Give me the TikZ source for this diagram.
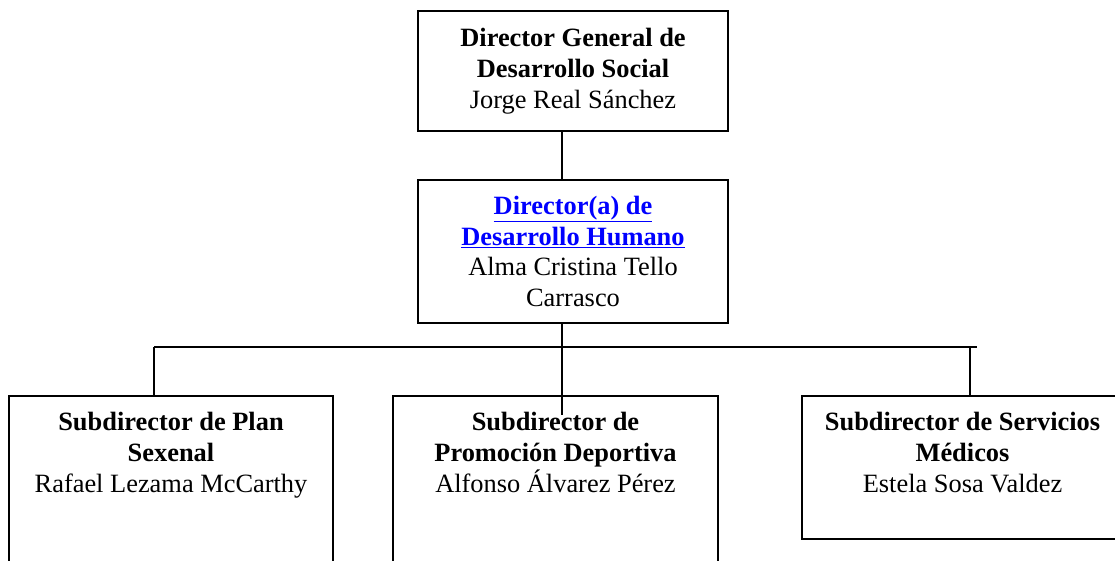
\documentclass[tikz,border=0pt]{standalone}
\usepackage{fontspec}
\setmainfont{Liberation Serif}
\usepackage{tikz}
\usetikzlibrary{positioning}
\definecolor{linkblue}{RGB}{0,0,255}

\begin{document}
\begin{tikzpicture}[x=1pt,y=-1pt]
				\useasboundingbox (0,0) rectangle (1115,560);
				\clip (0,0) rectangle (1115,560);
				\fill[white] (0,0) rectangle (1115,560);
				\begin{scope}[every node/.style = {rectangle, draw, line width=1.4pt, inner sep=0pt,
						align=center, font=\fontsize{26.4}{30.8}\selectfont}]
					\node[minimum width=310, minimum height=120] (dgds) at (573,71)
						{\textbf{Director General de}\\ \textbf{Desarrollo Social}\\ Jorge Real Sánchez};
					\node[minimum width=310, minimum height=143] (ddh) at (573,251.5)
						{\textcolor{linkblue}{\textbf{\underline{Director(a) de}}}\\
						 \textcolor{linkblue}{\textbf{\underline{Desarrollo Humano}}}\\
						 Alma Cristina Tello\\ Carrasco};
					\node[minimum width=324, minimum height=260] (plan) at (171,526) {};
					\node[minimum width=325, minimum height=260] (prom) at (555.5,526) {};
					\node[minimum width=321, minimum height=143] (serv) at (962.5,467.5) {};
				\end{scope}
				\begin{scope}[every node/.style = {align=center, inner sep=0pt,
						font=\fontsize{26.4}{30.8}\selectfont}]
					\node[anchor=base] (plant) at (171,492)
						{\textbf{Subdirector de Plan}\\ \textbf{Sexenal}\\ Rafael Lezama McCarthy};
					\node[anchor=base] (promt) at (555.5,492)
						{\textbf{Subdirector de}\\ \textbf{Promoción Deportiva}\\ Alfonso Álvarez Pérez};
					\node[anchor=base] (servt) at (962.5,492)
						{\textbf{Subdirector de Servicios}\\ \textbf{Médicos}\\ Estela Sosa Valdez};
				\end{scope}
				\coordinate (trunk) at (562,347);
				\coordinate (busL) at (154,347);
				\coordinate (busR) at (977,347);
				\coordinate (stubR) at (970,347);
				\coordinate (tip) at (562,415);
				\begin{scope}[line width=1.4pt]
					\draw (dgds.south -| trunk) -- (ddh.north -| trunk);
					\draw (ddh.south -| trunk) -- (tip);
					\draw (busL) -- (busR);
					\draw (busL) -- (busL |- plan.north);
					\draw (stubR) -- (stubR |- serv.north);
				\end{scope}
			\end{tikzpicture}
\end{document}
